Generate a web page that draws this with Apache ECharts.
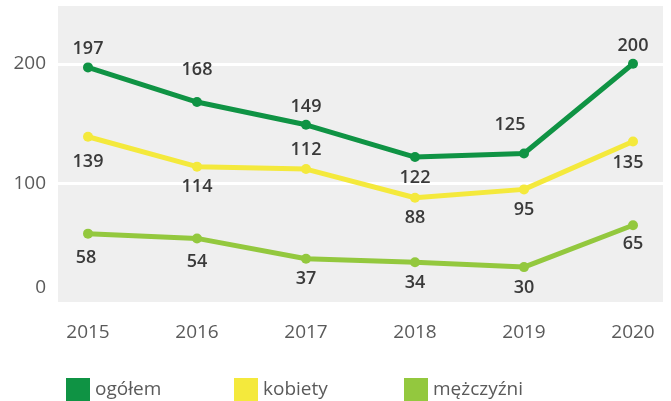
<!DOCTYPE html>
<html>
<head>
<meta charset="utf-8">
<script src="https://cdn.jsdelivr.net/npm/echarts@6/dist/echarts.min.js"></script>
<style>
  html, body { margin: 0; padding: 0; background: #fff; }
  #chart { width: 671px; height: 401px; }
</style>
</head>
<body>
<div id="chart"></div>
<script>
const years = ['2015', '2016', '2017', '2018', '2019', '2020'];
const ogolem = [197, 168, 149, 122, 125, 200];
const kobiety = [139, 114, 112, 88, 95, 135];
const mezczyzni = [58, 54, 37, 34, 30, 65];

// where each value label sits, relative to its point [dx, dy] in px
const ogolemLabelPos = [[0, -19], [0, -32], [0, -18], [0, 21], [-14, -29], [0, -18]];
const kobietyLabelPos = [[0, 25], [0, 20], [0, -19], [0, 20], [0, 20], [-5, 21]];
const mezczyzniLabelPos = [[-2, 24], [0, 23], [0, 20], [0, 21], [0, 21], [0, 19]];

const FONT = '"Open Sans", sans-serif';
const chart = echarts.init(document.getElementById('chart'));

function withLabels(values, pos) {
  return values.map((v, i) => ({
    value: v,
    label: { position: 'inside', offset: pos[i] }
  }));
}

function lineSeries(name, color, data) {
  return {
    name: name,
    type: 'line',
    xAxisIndex: 1,
    yAxisIndex: 1,
    data: data,
    symbol: 'circle',
    symbolSize: 10,
    lineStyle: { width: 5, color: color },
    itemStyle: { color: color },
    label: {
      show: true,
      color: '#3a3a3a',
      fontFamily: FONT,
      fontWeight: 600,
      fontSize: 18
    }
  };
}

const legendText = { color: '#5a5a5a', fontFamily: FONT, fontSize: 19 };

chart.setOption({
  animation: false,
  grid: [
    { left: 58, right: 8, top: 4, bottom: 98, show: true, backgroundColor: '#efefef', borderWidth: 0 },
    { left: 88, right: 38, top: 4, bottom: 98 }
  ],
  xAxis: [
    { gridIndex: 0, type: 'category', data: years, show: false },
    {
      gridIndex: 1,
      type: 'category',
      data: years,
      boundaryGap: false,
      axisLine: { show: false },
      axisTick: { show: false },
      axisLabel: { margin: 20, color: '#5a5a5a', fontFamily: FONT, fontSize: 19 }
    }
  ],
  yAxis: [
    {
      gridIndex: 0,
      type: 'value',
      min: 0,
      max: 250,
      interval: 100,
      axisLine: { show: false },
      axisTick: { show: false },
      splitLine: { lineStyle: { color: '#ffffff', width: 3 } },
      axisLabel: {
        showMaxLabel: false,
        margin: 12,
        color: '#5a5a5a',
        fontFamily: FONT,
        fontSize: 19,
        formatter: v => (v === 0 ? '{z|0}' : String(v)),
        rich: { z: { fontFamily: FONT, fontSize: 19, color: '#5a5a5a', padding: [0, 0, 30, 0] } }
      }
    },
    { gridIndex: 1, type: 'value', min: 0, max: 250, show: false }
  ],
  legend: [
    { data: ['ogółem'], left: 61, top: 373, itemWidth: 24, itemHeight: 24, itemGap: 8, icon: 'rect', textStyle: legendText },
    { data: ['kobiety'], left: 229, top: 373, itemWidth: 24, itemHeight: 24, itemGap: 8, icon: 'rect', textStyle: legendText },
    { data: ['mężczyźni'], left: 399, top: 373, itemWidth: 24, itemHeight: 24, itemGap: 8, icon: 'rect', textStyle: legendText }
  ],
  series: [
    lineSeries('ogółem', '#0f9344', withLabels(ogolem, ogolemLabelPos)),
    lineSeries('kobiety', '#f4e93c', withLabels(kobiety, kobietyLabelPos)),
    lineSeries('mężczyźni', '#93c83e', withLabels(mezczyzni, mezczyzniLabelPos))
  ]
});
</script>
</body>
</html>
